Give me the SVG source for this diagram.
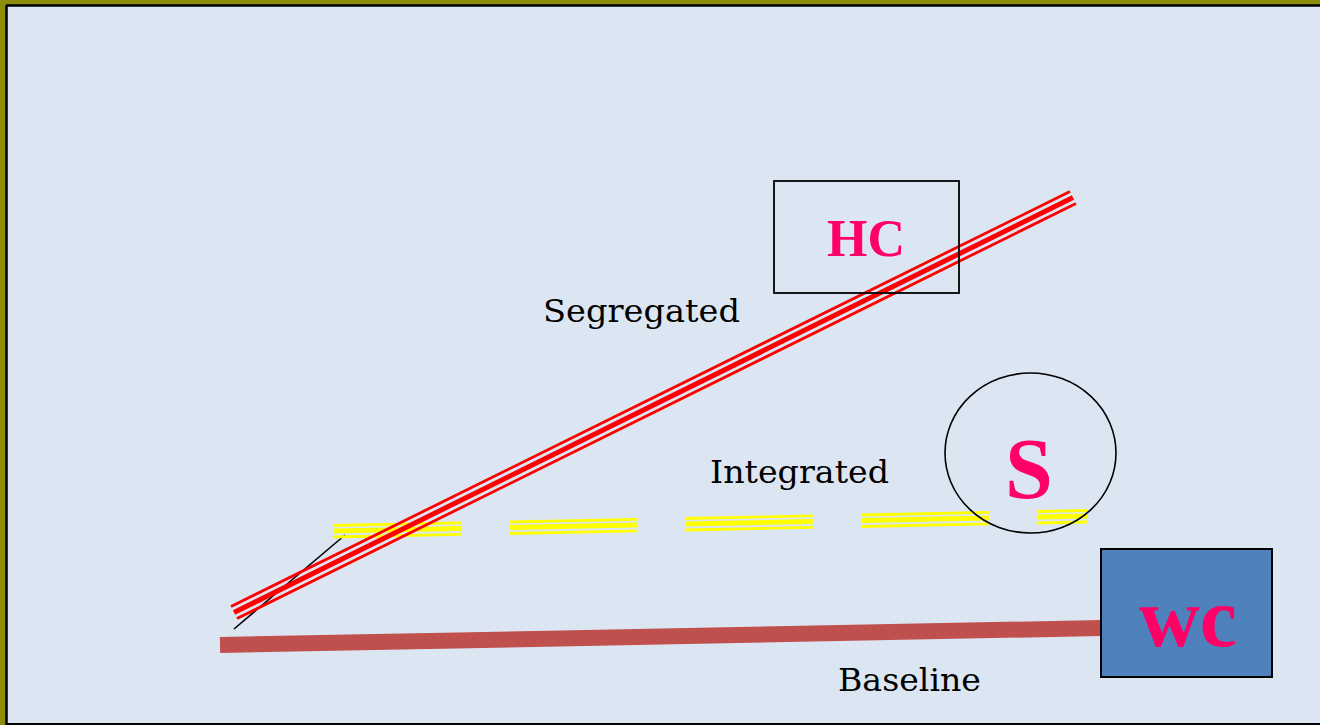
<svg xmlns="http://www.w3.org/2000/svg" width="1320" height="725" viewBox="0 0 1320 725">
  <style>
    .label { font-family: "DejaVu Serif", "Liberation Serif", serif; font-size: 31px; fill: #000000; }
    .mark { font-family: "Liberation Serif", "Times New Roman", Times, serif; font-weight: 700; fill: #ff0066; text-anchor: middle; }
    .red { stroke: #ff0000; fill: none; }
    .yel { stroke: #ffff00; fill: none; stroke-dasharray: 128 48; }
  </style>

  <!-- frame and slide background -->
  <rect x="0" y="0" width="1320" height="725" fill="#8c8c0a"/>
  <rect x="6" y="5" width="1314" height="720" fill="#dce6f2"/>
  <line x1="6" y1="5.5" x2="1320" y2="5.5" stroke="#000" stroke-width="2.5"/>
  <line x1="6.5" y1="5" x2="6.5" y2="725" stroke="#000" stroke-width="2.5"/>
  <line x1="6" y1="724" x2="1320" y2="724" stroke="#000" stroke-width="2"/>

  <g id="connectors">
    <!-- short black lead line -->
    <line x1="234" y1="629" x2="345" y2="535" stroke="#000" stroke-width="1.6"/>
    <!-- baseline bar -->
    <line x1="220" y1="645" x2="1102" y2="628" stroke="#c0504d" stroke-width="16"/>
    <!-- integrated: dashed yellow triple line -->
    <g id="integrated-line">
      <line class="yel" x1="333" y1="525.5" x2="1087" y2="510.5" stroke-width="2.8"/>
      <line class="yel" x1="333" y1="531" x2="1087" y2="516" stroke-width="5"/>
      <line class="yel" x1="333" y1="537" x2="1087" y2="522" stroke-width="2.8"/>
    </g>
    <!-- segregated: red triple line -->
    <g id="segregated-line">
      <line class="red" x1="231" y1="606.5" x2="1070" y2="191.5" stroke-width="2.8"/>
      <line class="red" x1="234" y1="612.5" x2="1073" y2="197.5" stroke-width="5"/>
      <line class="red" x1="237" y1="618.5" x2="1076" y2="203.5" stroke-width="2.8"/>
    </g>
  </g>

  <g id="node-hc">
    <rect x="774" y="181" width="185" height="112" fill="none" stroke="#000" stroke-width="1.8"/>
    <text class="mark" x="866" y="256" font-size="52">HC</text>
  </g>

  <g id="node-s">
    <ellipse cx="1030.5" cy="453" rx="85.5" ry="80" fill="none" stroke="#000" stroke-width="1.6"/>
    <text class="mark" x="1029" y="498" font-size="86">S</text>
  </g>

  <g id="node-wc">
    <rect x="1101" y="549" width="171" height="128" fill="#4f81bd" stroke="#000" stroke-width="2"/>
    <text class="mark" x="1188" y="646" font-size="84">wc</text>
  </g>

  <g id="labels">
    <text class="label" x="543" y="322" textLength="197" lengthAdjust="spacingAndGlyphs">Segregated</text>
    <text class="label" x="710" y="483" textLength="179" lengthAdjust="spacingAndGlyphs">Integrated</text>
    <text class="label" x="838" y="691" textLength="143" lengthAdjust="spacingAndGlyphs">Baseline</text>
  </g>
</svg>
